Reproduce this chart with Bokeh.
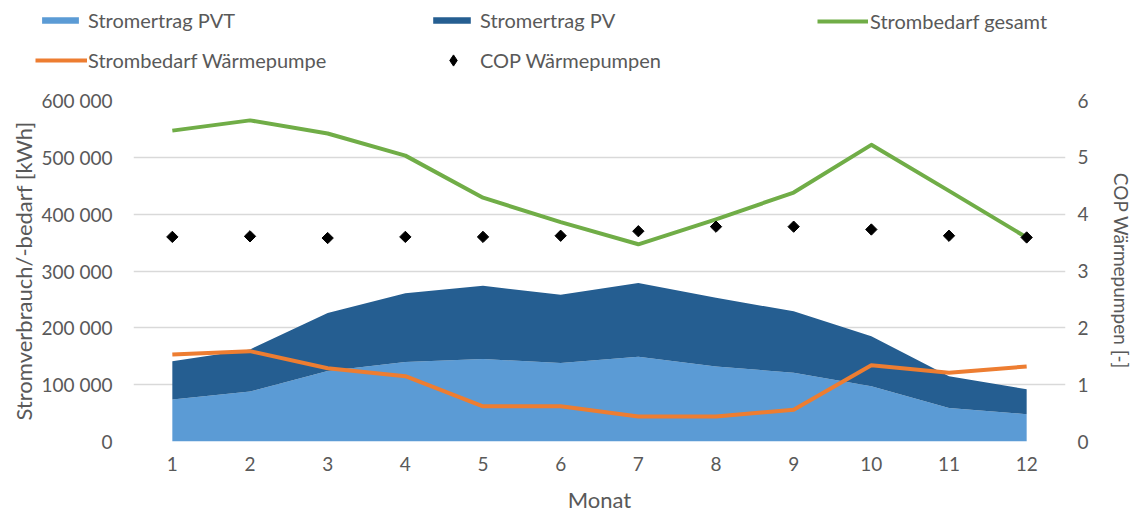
from bokeh.plotting import figure
from bokeh.models import Range1d, LinearAxis, FixedTicker, Legend, LegendItem, ColumnDataSource
from bokeh.embed import file_html
from bokeh.resources import INLINE
import math

# ---- data ----
months = [1, 2, 3, 4, 5, 6, 7, 8, 9, 10, 11, 12]
stromertrag_pvt = [74000, 88000, 124000, 140000, 145000, 138000, 149000, 132000, 121000, 97000, 59000, 48000]
stromertrag_pv = [67000, 74000, 102000, 121000, 129000, 120000, 130000, 121000, 108000, 88000, 56000, 44000]
strombedarf_gesamt = [547000, 565000, 542000, 503000, 429000, 386000, 347000, 391000, 438000, 522000, 441000, 359000]
strombedarf_wp = [153000, 159000, 129000, 115000, 62000, 62000, 44000, 44000, 56000, 134000, 121000, 132000]
cop_wp = [3.60, 3.61, 3.58, 3.60, 3.60, 3.62, 3.70, 3.78, 3.78, 3.73, 3.62, 3.59]

y_ticks = [0, 100000, 200000, 300000, 400000, 500000, 600000]
y_tick_labels = ["0", "100 000", "200 000", "300 000", "400 000", "500 000", "600 000"]
cop_ticks = [0, 1, 2, 3, 4, 5, 6]
x_tick_labels = [str(m) for m in months]

series_names = ["Stromertrag PVT", "Stromertrag PV", "Strombedarf gesamt",
                "Strombedarf Wärmepumpe", "COP Wärmepumpen"]

FONT = "Lato"
TXT = "#595959"
GRID = "#D9D9D9"
C_PVT = "#5B9BD5"
C_PV = "#255E91"
C_GES = "#70AD47"
C_WP = "#ED7D31"

src = ColumnDataSource(dict(month=months, pvt=stromertrag_pvt, pv=stromertrag_pv,
                            ges=strombedarf_gesamt, wp=strombedarf_wp, cop=cop_wp))

# ---------------- main chart ----------------
p = figure(width=1135, height=436, output_backend="svg", toolbar_location=None,
           x_range=Range1d(0.5, 12.5), y_range=Range1d(0, 600000),
           min_border_left=133, min_border_right=69, min_border_top=20, min_border_bottom=75)
p.outline_line_color = None
p.background_fill_color = "white"
p.border_fill_color = "white"

p.extra_y_ranges = {"cop": Range1d(0, 6)}

p.xgrid.grid_line_color = None
p.ygrid.ticker = FixedTicker(ticks=y_ticks)
p.ygrid.grid_line_color = GRID
p.ygrid.grid_line_width = 1.5

areas = p.varea_stack(["pvt", "pv"], x="month", source=src, color=[C_PVT, C_PV])
r_wp = p.line("month", "wp", source=src, line_color=C_WP, line_width=4, line_join="round")
r_ges = p.line("month", "ges", source=src, line_color=C_GES, line_width=4, line_join="round")
r_cop = p.scatter("month", "cop", source=src, y_range_name="cop", marker="square",
                  angle=math.pi / 4, size=8, fill_color="black", line_color="black")

def style_axis(ax, title_size="22px"):
    ax.axis_line_color = None
    ax.major_tick_line_color = None
    ax.minor_tick_line_color = None
    ax.major_tick_out = 0
    ax.major_tick_in = 0
    ax.minor_tick_out = 0
    ax.minor_tick_in = 0
    ax.major_label_text_font = FONT
    ax.major_label_text_color = TXT
    ax.major_label_text_font_size = "19px"
    ax.axis_label_text_font = FONT
    ax.axis_label_text_color = TXT
    ax.axis_label_text_font_size = title_size
    ax.axis_label_text_font_style = "normal"

xa = p.xaxis[0]
style_axis(xa)
xa.ticker = FixedTicker(ticks=months)
xa.major_label_overrides = {m: l for m, l in zip(months, x_tick_labels)}
xa.axis_label = "Monat"
xa.major_label_standoff = 15
xa.axis_label_standoff = 12

ya = p.yaxis[0]
style_axis(ya)
ya.ticker = FixedTicker(ticks=y_ticks)
ya.major_label_overrides = {t: l for t, l in zip(y_ticks, y_tick_labels)}
ya.axis_label = "Stromverbrauch/-bedarf [kWh]"
ya.major_label_standoff = 21
ya.axis_label_standoff = 2

ra = LinearAxis(y_range_name="cop", ticker=FixedTicker(ticks=cop_ticks))
style_axis(ra, "19px")
ra.axis_label = "COP Wärmepumpen [-]"
ra.major_label_standoff = 12
ra.axis_label_standoff = 18
p.add_layout(ra, "right")

# ---------------- legend strip (separate root, not frame-aligned) ----------------
lf = figure(width=1135, height=80, output_backend="svg", toolbar_location=None,
            x_range=Range1d(100, 101), y_range=Range1d(0, 1),
            min_border=0, min_border_left=0, min_border_right=0,
            min_border_top=0, min_border_bottom=0,
            x_axis_type=None, y_axis_type=None)
lf.outline_line_color = None
lf.xgrid.visible = False
lf.ygrid.visible = False

# series renderers whose data lie outside this strip's ranges: only their legend glyphs show
g_area = lf.varea_stack(["pvt", "pv"], x="month", source=src, color=[C_PVT, C_PV])
g_ges = lf.line("month", "ges", source=src, line_color=C_GES, line_width=4)
g_wp = lf.line("month", "wp", source=src, line_color=C_WP, line_width=4)
g_cop = lf.scatter("month", "cop", source=src, marker="diamond",
                   fill_color="black", line_color="black")

def add_legend(label, rend, loc, gw, gh, standoff, lh=24):
    lg = Legend(items=[LegendItem(label=label, renderers=[rend])], location=loc,
                orientation="horizontal", glyph_width=gw, glyph_height=gh,
                label_standoff=standoff, label_height=lh, padding=0, margin=0, spacing=0,
                border_line_color=None, background_fill_alpha=0,
                label_text_font=FONT, label_text_font_size="20px", label_text_color=TXT)
    lf.add_layout(lg, "center")

add_legend(series_names[0], g_area[0], (37, 48), 46, 8, 5)
add_legend(series_names[1], g_area[1], (428, 48), 47, 8, 5)
add_legend(series_names[2], g_ges, (817, 47), 51, 24, 2)
add_legend(series_names[3], g_wp, (35, 8), 52, 24, 1)
add_legend(series_names[4], g_cop, (439, 6), 28, 28, 13)

open("out.html", "w").write(file_html([lf, p], INLINE))
